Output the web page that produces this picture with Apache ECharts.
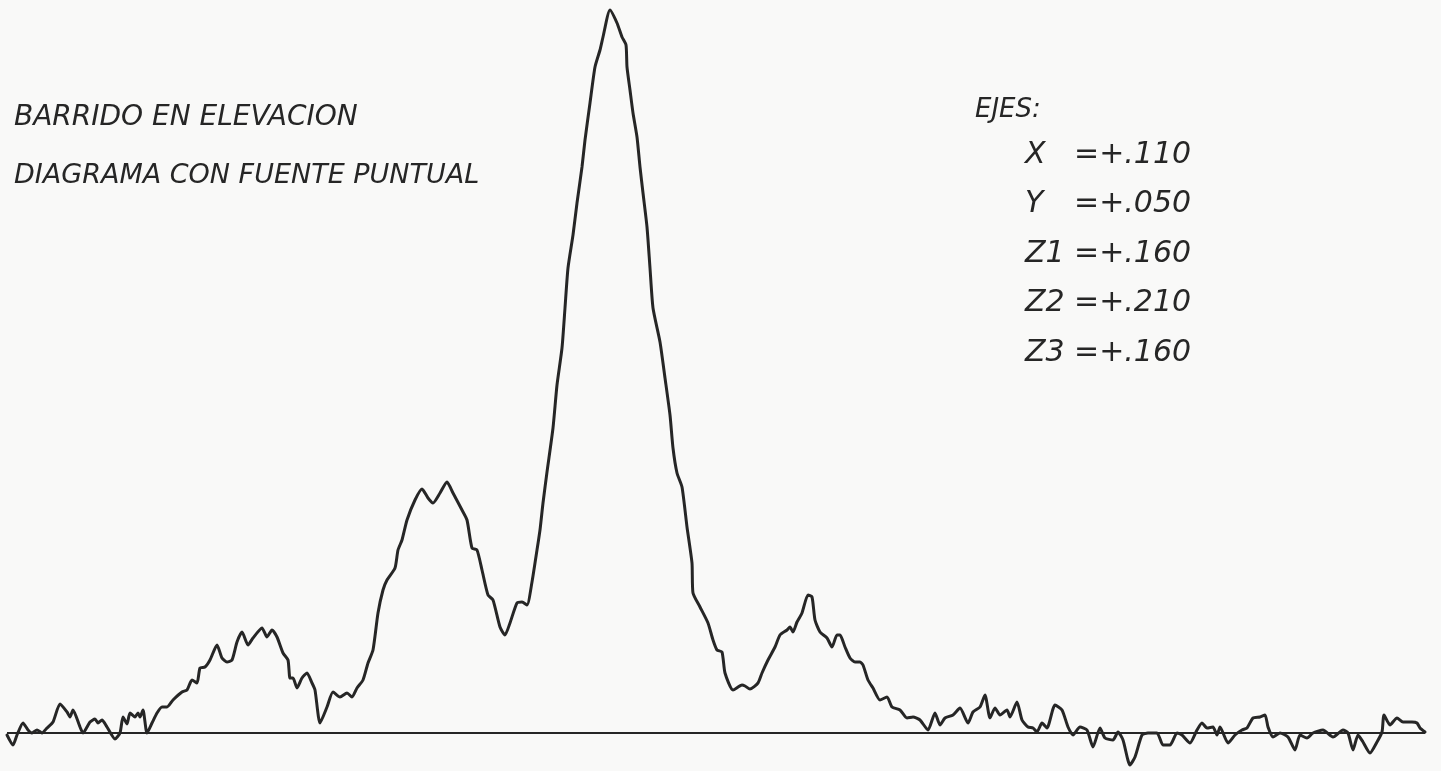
<!DOCTYPE html>
<html>
<head>
<meta charset="utf-8">
<title>Barrido en elevación</title>
<script src="https://cdn.jsdelivr.net/npm/echarts@6/dist/echarts.min.js"></script>
<style>
  html, body { margin: 0; padding: 0; background: #f9f9f8; }
  #chart { width: 1441px; height: 771px; }
</style>
</head>
<body>
<div id="chart"></div>
<script>
// Elevation scan positions (arbitrary units along the sweep)
const elevation = [
  7, 13, 17, 23, 28, 32, 37, 42, 47, 53, 60, 67, 70, 73, 80, 83, 90, 95, 98, 102,
  107, 115, 120, 123, 127, 130, 135, 138, 140, 143, 147, 152, 157, 162, 167, 173, 182, 187, 192, 197,
  200, 205, 210, 217, 222, 227, 232, 237, 242, 248, 253, 262, 267, 272, 277, 283, 288, 290, 293, 297,
  302, 307, 312, 315, 320, 327, 333, 340, 347, 352, 357, 363, 368, 373, 378, 383, 387, 395, 398, 402,
  407, 415, 422, 428, 433, 440, 447, 453, 462, 467, 472, 477, 482, 488, 493, 500, 505, 510, 517, 522,
  527, 532, 537, 540, 543, 547, 553, 557, 562, 565, 568, 573, 577, 582, 585, 590, 595, 600, 603, 610,
  617, 622, 626, 627, 630, 633, 637, 640, 643, 647, 650, 653, 660, 665, 670, 673, 677, 682, 687, 692,
  693, 700, 708, 713, 717, 722, 725, 733, 742, 745, 750, 758, 762, 768, 775, 780, 787, 790, 793, 797,
  802, 808, 812, 815, 820, 827, 832, 837, 840, 845, 850, 855, 860, 863, 868, 873, 880, 887, 892, 900,
  907, 913, 920, 928, 935, 940, 945, 953, 960, 968, 973, 980, 985, 990, 995, 1000, 1007, 1010, 1017, 1022,
  1028, 1033, 1037, 1042, 1047, 1055, 1062, 1068, 1073, 1080, 1087, 1093, 1100, 1105, 1113, 1118, 1123, 1130, 1135, 1142,
  1148, 1157, 1163, 1170, 1177, 1182, 1190, 1197, 1202, 1207, 1213, 1217, 1220, 1228, 1235, 1242, 1247, 1253, 1260, 1265,
  1268, 1273, 1280, 1288, 1295, 1300, 1307, 1313, 1323, 1333, 1343, 1348, 1353, 1358, 1363, 1370, 1377, 1382, 1384, 1390,
  1397, 1403, 1412, 1417, 1420, 1425
];

// Received signal level at each position (zero = reference line)
const response = [
  -2, -12, -2, 10, 3, 0, 3, 0, 5, 11, 29, 21, 16, 23, 6, 0, 11, 14, 10, 13,
  6, -6, 0, 16, 9, 20, 16, 20, 16, 23, 0, 10, 20, 26, 26, 33, 41, 43, 53, 50,
  65, 66, 73, 88, 75, 71, 73, 91, 101, 88, 95, 105, 96, 103, 96, 80, 73, 55, 55, 45,
  55, 60, 50, 43, 10, 26, 41, 36, 40, 36, 45, 53, 70, 83, 120, 143, 153, 165, 183, 193,
  213, 233, 244, 235, 230, 240, 251, 240, 223, 213, 185, 183, 163, 138, 133, 106, 98, 110, 130, 131,
  128, 151, 183, 203, 230, 261, 305, 348, 385, 425, 465, 498, 530, 566, 593, 630, 666, 683, 696, 723,
  710, 696, 688, 666, 643, 620, 596, 566, 540, 506, 465, 425, 391, 355, 318, 285, 260, 246, 206, 170,
  140, 126, 110, 93, 83, 81, 60, 43, 48, 47, 44, 50, 60, 73, 86, 98, 103, 106, 101, 111,
  120, 138, 136, 113, 101, 95, 86, 98, 98, 86, 75, 71, 71, 68, 53, 45, 33, 36, 26, 23,
  15, 16, 13, 3, 20, 8, 15, 18, 25, 10, 21, 26, 38, 15, 25, 18, 23, 16, 31, 13,
  6, 5, 1, 10, 5, 28, 23, 6, -2, 6, 3, -14, 5, -5, -7, 1, -7, -32, -24, -2,
  0, 0, -12, -12, 0, -2, -10, 3, 10, 5, 6, -2, 6, -10, -2, 3, 5, 15, 16, 18,
  6, -4, 0, -4, -17, -2, -5, 0, 3, -4, 3, 0, -17, -2, -9, -20, -9, 1, 18, 8,
  15, 11, 11, 10, 5, 1
];

// Extent of the hand-ruled zero line
const baselineX = [7, 1425];

// Annotation texts
const titleLines = ['BARRIDO EN ELEVACION', 'DIAGRAMA CON FUENTE PUNTUAL'];
const axesHeading = 'EJES:';
const axisNames = ['X', 'Y', 'Z1', 'Z2', 'Z3'];
const axisValues = ['=+.110', '=+.050', '=+.160', '=+.210', '=+.160'];

const ink = '#262626';
const handFont = '"DejaVu Sans", "Liberation Sans", sans-serif';
const titleSizes = [28, 27];

const curve = elevation.map((x, i) => [x, response[i]]);
const baseline = baselineX.map(x => [x, 0]);

const texts = [];
titleLines.forEach((t, i) => {
  texts.push({
    type: 'text', x: 14, y: 118 + i * 58, silent: true,
    style: { text: t, fill: ink, font: 'italic ' + titleSizes[i] + 'px ' + handFont, textVerticalAlign: 'middle' }
  });
});
texts.push({
  type: 'text', x: 975, y: 110, silent: true,
  style: { text: axesHeading, fill: ink, font: 'italic 26px ' + handFont, textVerticalAlign: 'middle' }
});
axisNames.forEach((n, i) => {
  const y = 155 + i * 49.5;
  texts.push({
    type: 'text', x: 1025, y: y, silent: true,
    style: { text: n, fill: ink, font: 'italic 30px ' + handFont, textVerticalAlign: 'middle' }
  });
  texts.push({
    type: 'text', x: 1074, y: y, silent: true,
    style: { text: axisValues[i], fill: ink, font: 'italic 30px ' + handFont, textVerticalAlign: 'middle' }
  });
});

const chart = echarts.init(document.getElementById('chart'), null, { renderer: 'canvas' });
chart.setOption({
  animation: false,
  backgroundColor: '#f9f9f8',
  grid: { left: 0, right: 0, top: 0, bottom: 0 },
  xAxis: { type: 'value', min: 0, max: 1441, show: false },
  yAxis: { type: 'value', min: -38, max: 733, show: false },
  series: [
    {
      name: 'baseline', type: 'line', data: baseline, symbol: 'none', silent: true,
      lineStyle: { color: ink, width: 2 }
    },
    {
      name: 'respuesta', type: 'line', data: curve, symbol: 'none', smooth: 0.2,
      lineStyle: { color: ink, width: 3, cap: 'round', join: 'round' }
    }
  ],
  graphic: texts
});
</script>
</body>
</html>
